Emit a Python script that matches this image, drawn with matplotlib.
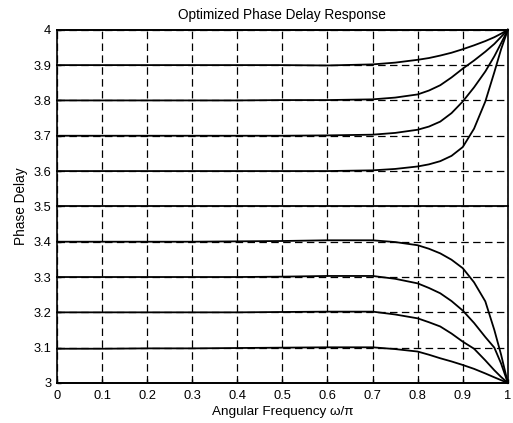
import numpy as np
import matplotlib
matplotlib.use('Agg')
import matplotlib.pyplot as plt

plt.rcParams['font.family'] = ['Liberation Sans', 'DejaVu Sans']

# normalised frequency samples (w/pi)
freq = [0, 0.1, 0.2, 0.3, 0.4, 0.5, 0.6, 0.7, 0.75, 0.8, 0.825, 0.85, 0.875, 0.9, 0.925, 0.95, 0.97, 0.985, 1.0]

# phase delay, one list per design delay
d40 = [4.0] * 19
d39 = [3.9, 3.9, 3.9, 3.9, 3.9, 3.9, 3.899, 3.902, 3.907, 3.915, 3.92, 3.927, 3.935, 3.945, 3.956, 3.968, 3.979, 3.989, 4.0]
d38 = [3.8, 3.8, 3.8, 3.8, 3.8, 3.801, 3.801, 3.803, 3.808, 3.817, 3.828, 3.843, 3.865, 3.89, 3.913, 3.938, 3.96, 3.98, 4.0]
d37 = [3.7, 3.7, 3.7, 3.7, 3.7, 3.7, 3.701, 3.703, 3.708, 3.717, 3.726, 3.74, 3.764, 3.797, 3.837, 3.882, 3.925, 3.962, 4.0]
d36 = [3.6, 3.6, 3.6, 3.6, 3.6, 3.6, 3.6, 3.602, 3.606, 3.613, 3.619, 3.628, 3.643, 3.668, 3.72, 3.797, 3.88, 3.945, 4.0]
d35 = [3.5] * 19
d34 = [3.4, 3.4, 3.4, 3.4, 3.401, 3.402, 3.404, 3.404, 3.399, 3.39, 3.38, 3.367, 3.349, 3.325, 3.285, 3.231, 3.15, 3.08, 3.0]
d33 = [3.3, 3.3, 3.3, 3.3, 3.3, 3.301, 3.303, 3.303, 3.295, 3.282, 3.269, 3.254, 3.232, 3.205, 3.17, 3.13, 3.1, 3.055, 3.0]
d32 = [3.2, 3.2, 3.2, 3.2, 3.2, 3.201, 3.202, 3.202, 3.194, 3.183, 3.172, 3.16, 3.14, 3.117, 3.097, 3.064, 3.036, 3.017, 3.0]
d31 = [3.097, 3.097, 3.098, 3.098, 3.099, 3.1, 3.101, 3.101, 3.096, 3.089, 3.08, 3.07, 3.061, 3.051, 3.04, 3.027, 3.016, 3.008, 3.0]
d30 = [3.0] * 19

xticks = [0, 0.1, 0.2, 0.3, 0.4, 0.5, 0.6, 0.7, 0.8, 0.9, 1]
xticklabels = ['0', '0.1', '0.2', '0.3', '0.4', '0.5', '0.6', '0.7', '0.8', '0.9', '1']
yticks = [3, 3.1, 3.2, 3.3, 3.4, 3.5, 3.6, 3.7, 3.8, 3.9, 4]
yticklabels = ['3', '3.1', '3.2', '3.3', '3.4', '3.5', '3.6', '3.7', '3.8', '3.9', '4']

fig = plt.figure(figsize=(5.13, 4.23), dpi=100)
ax = fig.add_axes([0.111, 0.0946, 0.879, 0.835])

for d in [d40, d39, d38, d37, d36, d35, d34, d33, d32, d31, d30]:
    ax.plot(freq, d, color='black', lw=1.3, clip_on=False)

ax.set_xlim(0, 1)
ax.set_ylim(3, 4)
ax.set_xticks(xticks)
ax.set_xticklabels(xticklabels)
ax.set_yticks(yticks)
ax.set_yticklabels(yticklabels)
ax.tick_params(direction='in', length=3, labelsize=9.3, width=1)
ax.tick_params(axis='x', pad=5)
ax.tick_params(axis='y', pad=4)
ax.grid(True, color='black', linestyle=(0, (6, 3.5)), linewidth=0.9)
for s in ax.spines.values():
    s.set_linewidth(1.2)

ax.set_title('Optimized Phase Delay Response', fontsize=9.8, pad=7.5)
ax.set_xlabel('Angular Frequency \u03c9/\u03c0', fontsize=9.7, labelpad=3)
ax.set_ylabel('Phase Delay', fontsize=9.8, labelpad=4)

fig.savefig('out.png', dpi=100)
